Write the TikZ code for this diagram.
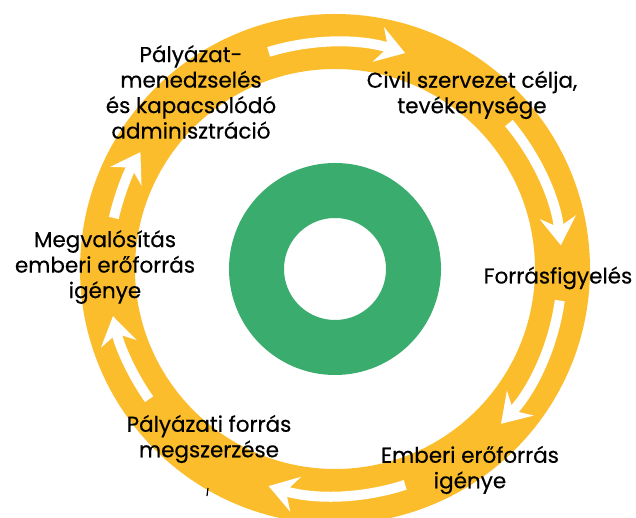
\documentclass[tikz,border=0pt]{standalone}
\usepackage{fontspec}
\setmainfont{Poppins}
\newfontfamily\lblfont{Poppins}[FakeBold=0.4]
\usetikzlibrary{arrows.meta,calc}
\definecolor{ringyellow}{RGB}{251,189,44}
\definecolor{ringgreen}{RGB}{58,173,110}
\tikzset{
  lbl/.style={align=center, text=black, inner sep=0pt,
    font=\lblfont\fontsize{21.5}{25.5}\selectfont},
  cyclearrow/.style={draw=white, line width=10pt,
    -{Stealth[length=28pt, width=36pt, inset=10pt]}},
}
\begin{document}
\begin{tikzpicture}[x=1pt,y=1pt]
\clip (0,0) rectangle (636,518);
\fill[white] (0,0) rectangle (636,518);
\coordinate (C) at (335,249);
% rings
\draw[ringyellow, line width=55pt] (C) circle[radius=227.5];
\draw[ringgreen, line width=55pt] (C) circle[radius=78.5];
% arrows
\foreach \a/\b in {107/72, 40/6, -8/-43, -72/-107, 215/192, 167/149}{
  \draw[cyclearrow] ($(C)+(\a:227)$) arc[start angle=\a, end angle=\b, radius=227];
}
% labels
\node[lbl] (pm) at (191,426) {Pályázat-\\menedzselés\\és kapacsolódó\\adminisztráció};
\node[lbl] (civil) at (472,423) {Civil szervezet célja,\\tevékenysége};
\node[lbl] (ff) at (558,240) {Forrásfigyelés};
\node[lbl] (eei) at (470,48) {Emberi erőforrás\\igénye};
\node[lbl] (pfm) at (209,79) {Pályázati forrás\\megszerzése};
\node[lbl] (mv) at (105,251) {Megvalósítás\\emberi erőforrás\\igénye};
% stray mark
\coordinate (m1) at (208,30);
\coordinate (m2) at (207,22);
\draw[black, line width=1.2pt] (m1) -- (m2);
\end{tikzpicture}
\end{document}
